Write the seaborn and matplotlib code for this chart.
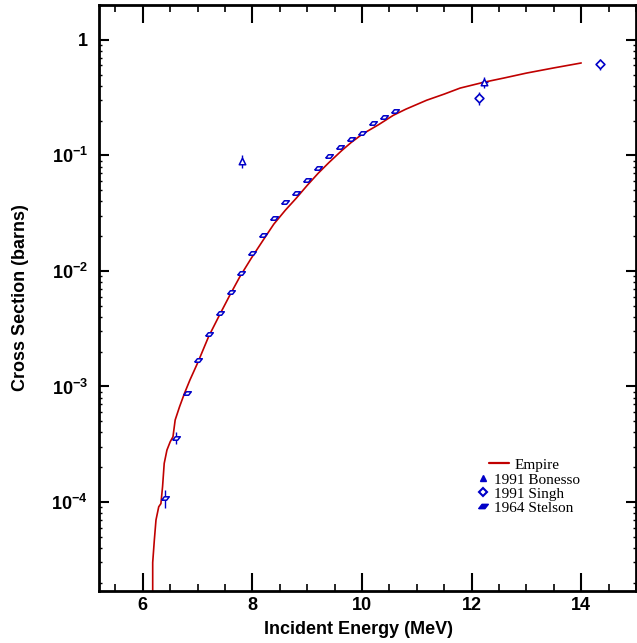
import matplotlib
matplotlib.use("Agg")
import matplotlib.pyplot as plt
from matplotlib.ticker import MultipleLocator, LogLocator, FuncFormatter, NullFormatter
from matplotlib.lines import Line2D
import numpy as np
import pandas as pd
import seaborn as sns

# Empire calculation
empire_e = [6.18, 6.18, 6.21, 6.24, 6.29, 6.33, 6.36, 6.39, 6.44, 6.50, 6.55, 6.59,
            6.67, 6.76, 6.86, 7.0, 7.2, 7.4, 7.59, 7.77, 7.98, 8.2, 8.39, 8.6, 8.8,
            9.0, 9.2, 9.4, 9.63, 9.8, 10.0, 10.3, 10.57, 10.8, 11.18, 11.5, 11.79,
            12.23, 12.6, 13.0, 13.5, 14.0]
empire_xs = [1e-5, 3.0e-5, 4.7e-5, 7.0e-5, 9.1e-5, 9.7e-5, 1.36e-4, 2.16e-4, 2.82e-4,
             3.33e-4, 3.67e-4, 5.13e-4, 6.68e-4, 8.73e-4, 1.14e-3, 1.6e-3, 2.7e-3,
             4.16e-3, 6.2e-3, 8.9e-3, 1.29e-2, 1.86e-2, 2.54e-2, 3.35e-2, 4.26e-2,
             5.5e-2, 7.0e-2, 8.7e-2, 0.110, 0.129, 0.152, 0.184, 0.222, 0.251, 0.300,
             0.339, 0.382, 0.43, 0.468, 0.515, 0.571, 0.63]

# 1991 Bonesso
bonesso_e = [7.81, 12.23]
bonesso_xs = [0.0889, 0.43]
bonesso_err = [0.011, 0.05]
bonesso_eerr = [0.03, 0.06]

# 1991 Singh
singh_e = [12.13, 14.35]
singh_xs = [0.313, 0.616]
singh_err = [0.04, 0.07]

# 1964 Stelson
stelson_e = [6.4, 6.6, 6.8, 7.0, 7.2, 7.4, 7.6, 7.8, 8.0, 8.2, 8.4, 8.6, 8.8, 9.0,
             9.2, 9.4, 9.6, 9.8, 10.0, 10.2, 10.4, 10.6]
stelson_xs = [1.08e-4, 3.58e-4, 8.8e-4, 1.69e-3, 2.85e-3, 4.36e-3, 6.55e-3, 9.55e-3,
              1.44e-2, 2.05e-2, 2.88e-2, 3.93e-2, 4.76e-2, 6.17e-2, 7.83e-2, 9.96e-2,
              0.1185, 0.1397, 0.1566, 0.190, 0.214, 0.241]
stelson_rel = [0.18, 0.12] + [0.04] * 20

sns.set_theme(style="white")
plt.rcParams["font.family"] = ["Liberation Sans", "DejaVu Sans"]
plt.rcParams["mathtext.fontset"] = "custom"
plt.rcParams["mathtext.rm"] = "Liberation Sans:bold"
plt.rcParams["mathtext.bf"] = "Liberation Sans:bold"
for k in ["text.color", "axes.labelcolor", "xtick.color", "ytick.color"]:
    plt.rcParams[k] = "black"

blue = "#0000c8"
red = "#c00000"

fig = plt.figure(figsize=(6.37, 6.43), dpi=100)
ax = fig.add_axes([99 / 637, 1 - 591 / 643, 537 / 637, 586 / 643])

empire = pd.DataFrame({"E": empire_e, "xs": empire_xs})
sns.lineplot(data=empire, x="E", y="xs", ax=ax, color=red, lw=1.2,
             estimator=None, sort=False)

stel_err = np.array(stelson_xs) * np.array(stelson_rel)
ax.errorbar(stelson_e, stelson_xs, yerr=stel_err, fmt="none", ecolor=blue,
            elinewidth=1, capsize=0, zorder=3)
ax.errorbar(bonesso_e, bonesso_xs, yerr=bonesso_err, xerr=bonesso_eerr, fmt="none",
            ecolor=blue, elinewidth=1, capsize=0, zorder=3)
ax.errorbar(singh_e, singh_xs, yerr=singh_err, fmt="none", ecolor=blue,
            elinewidth=1, capsize=0, zorder=3)

para = [(-1, -0.45), (0.3, -0.45), (1, 0.45), (-0.3, 0.45), (-1, -0.45)]
sns.scatterplot(x=stelson_e, y=stelson_xs, ax=ax, marker=para, s=30,
                facecolor="white", edgecolor=blue, linewidth=1.1, zorder=4)
sns.scatterplot(x=bonesso_e, y=bonesso_xs, ax=ax, marker="^", s=22,
                facecolor="white", edgecolor=blue, linewidth=1.1, zorder=4)
sns.scatterplot(x=singh_e, y=singh_xs, ax=ax, marker="D", s=20,
                facecolor="white", edgecolor=blue, linewidth=1.2, zorder=4)

ax.set_yscale("log")
ax.set_xlim(5.2, 15.0)
ax.set_ylim(1.7e-5, 2.0)

ax.xaxis.set_major_locator(MultipleLocator(2))
ax.xaxis.set_minor_locator(MultipleLocator(0.5))
ax.yaxis.set_major_locator(LogLocator(base=10, numticks=10))
ax.yaxis.set_minor_locator(LogLocator(base=10, subs=np.arange(2, 10), numticks=10))
ax.yaxis.set_minor_formatter(NullFormatter())


def ylab(v, pos):
    p = int(round(np.log10(v)))
    if p == 0:
        return "1"
    return r"$\mathbf{10^{%d}}$" % p


ax.yaxis.set_major_formatter(FuncFormatter(ylab))

ax.tick_params(axis="x", which="major", direction="in", length=13, width=1.5,
               top=True, bottom=True, pad=4, labelsize=13)
ax.tick_params(axis="x", which="minor", direction="in", length=5, width=1.2,
               top=True, bottom=True)
ax.tick_params(axis="y", which="major", direction="in", length=7, width=1.5,
               left=True, right=True, pad=8, labelsize=13)
ax.tick_params(axis="y", which="minor", direction="in", length=2, width=1,
               left=True, right=True)
for lab in ax.get_xticklabels() + ax.get_yticklabels():
    lab.set_fontweight("bold")

for sp in ax.spines.values():
    sp.set_linewidth(2)
    sp.set_color("black")

ax.set_xlabel("Incident Energy (MeV)", fontsize=13, fontweight="bold")
ax.set_ylabel("Cross Section (barns)", fontsize=13, fontweight="bold")
ax.xaxis.set_label_coords(0.484, -0.051)
ax.yaxis.set_label_coords(-0.13, 0.5)

# legend: Empire line, then the three data sets
leg_font = {"family": "Liberation Serif", "size": 11}
h_emp = [Line2D([], [], color=red, lw=1.6)]
leg1 = ax.legend(h_emp, ["Empire"], loc="upper left", prop=leg_font, frameon=False,
                 bbox_to_anchor=(489 / 637, 1 - 458 / 643), bbox_transform=fig.transFigure,
                 borderpad=0, borderaxespad=0, handlelength=1.3, handletextpad=0.4)
ax.add_artist(leg1)
h_dat = [Line2D([], [], ls="none", marker="^", ms=5, color=blue),
         Line2D([], [], ls="none", marker="D", ms=4.5, mfc="white", mec=blue, mew=1.5),
         Line2D([], [], ls="none", marker=para, ms=7, color=blue)]
ax.legend(h_dat, ["1991 Bonesso", "1991 Singh", "1964 Stelson"], loc="upper left",
          prop=leg_font, frameon=False,
          bbox_to_anchor=(477 / 637, 1 - 473 / 643), bbox_transform=fig.transFigure,
          borderpad=0, borderaxespad=0, handlelength=0.75, handletextpad=0.35,
          labelspacing=0.02)

fig.savefig("out.png", dpi=100)
